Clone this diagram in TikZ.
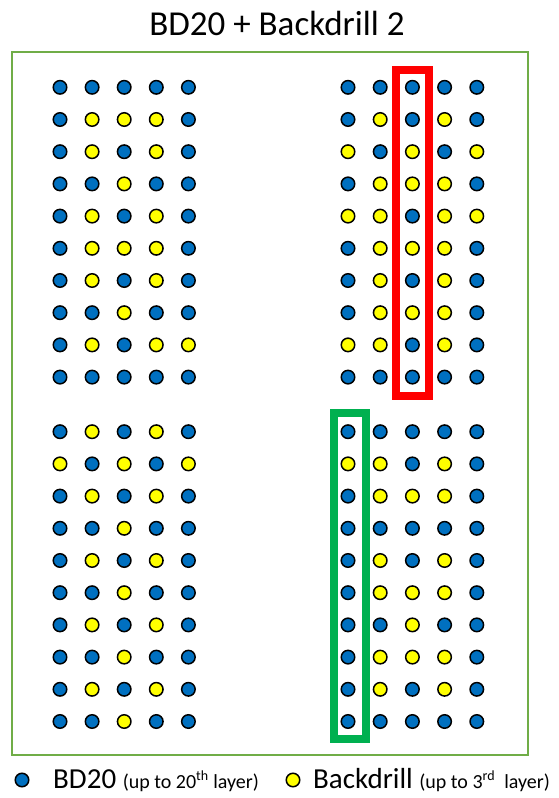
\documentclass[tikz,border=0pt]{standalone}
\usepackage{fontspec}
\setmainfont{Carlito}
\usetikzlibrary{positioning}
\definecolor{holeblue}{HTML}{0070C0}
\definecolor{holeyellow}{HTML}{FFFF00}
\definecolor{framegreen}{HTML}{70AD47}
\definecolor{markgreen}{HTML}{00B050}
\tikzset{
  hole/.style={circle, draw=black, line width=1.5pt, minimum size=13.5pt, inner sep=0pt},
  hole b/.style={hole, fill=holeblue},
  hole y/.style={hole, fill=holeyellow},
  mark box/.style={line width=8pt},
  key text/.style={anchor=base west, inner sep=0pt, font=\fontsize{29}{33}\selectfont},
}
\newcommand{\keynote}[1]{{\fontsize{20}{23}\selectfont #1}}

\begin{document}
\begin{tikzpicture}[x=1pt,y=-1pt]
\useasboundingbox (0,0) rectangle (558,798);

% Title
\node[anchor=base, font=\fontsize{35}{42}\selectfont] (title) at (277,35) {BD20 + Backdrill 2};

% Outer frame
\draw[framegreen, line width=1.5pt] (12,52) rectangle (528,755);

% Top left block
\foreach \row [count=\j from 0] in {{b,b,b,b,b},{b,y,y,y,b},{b,y,b,y,b},{b,b,y,b,b},{b,y,b,y,b},
                                    {b,y,y,y,b},{b,y,b,y,b},{b,b,y,b,b},{b,y,b,y,y},{b,b,b,b,b}}
  \foreach \c [count=\i from 0] in \row
    \node[hole \c] (tl-\j-\i) at (60+32.1*\i, 87.3+32.2*\j) {};

% Top right block
\foreach \row [count=\j from 0] in {{b,b,b,b,b},{b,y,b,y,b},{y,b,y,b,y},{b,y,y,y,b},{y,y,b,y,y},
                                    {b,y,y,y,b},{b,y,b,y,b},{b,y,y,y,b},{y,y,b,y,b},{b,b,b,b,b}}
  \foreach \c [count=\i from 0] in \row
    \node[hole \c] (tr-\j-\i) at (348+32.2*\i, 87.3+32.2*\j) {};

% Bottom left block
\foreach \row [count=\j from 0] in {{b,y,b,y,b},{y,b,y,b,y},{b,y,b,y,b},{b,b,y,b,b},{b,y,b,y,b},
                                    {b,b,y,b,b},{b,y,b,y,b},{b,b,y,b,b},{b,y,b,y,b},{b,b,y,b,b}}
  \foreach \c [count=\i from 0] in \row
    \node[hole \c] (bl-\j-\i) at (60+32.1*\i, 431.7+32.2*\j) {};

% Bottom right block
\foreach \row [count=\j from 0] in {{b,b,b,b,b},{y,y,b,y,b},{b,y,y,y,b},{b,b,b,b,b},{b,y,b,y,b},
                                    {b,y,y,y,b},{b,b,y,b,b},{b,y,y,y,b},{b,y,b,y,b},{b,b,b,b,b}}
  \foreach \c [count=\i from 0] in \row
    \node[hole \c] (br-\j-\i) at (348+32.2*\i, 431.7+32.2*\j) {};

% Highlighted columns
\draw[red, mark box] (396,70) rectangle (428.5,395.5);
\draw[markgreen, mark box] (333.5,413) rectangle (366,739);

% Legend
\node[hole b] (key-bd) at (22,780) {};
\node[key text] (key-bd-text) at (53,788) {BD20 \keynote{(up to 20\textsuperscript{th} layer)}};
\node[hole y] (key-bk) at (293,780) {};
\node[key text] (key-bk-text) at (313,788) {Backdrill \keynote{(up to 3\textsuperscript{rd}\ \ layer)}};

\end{tikzpicture}
\end{document}
